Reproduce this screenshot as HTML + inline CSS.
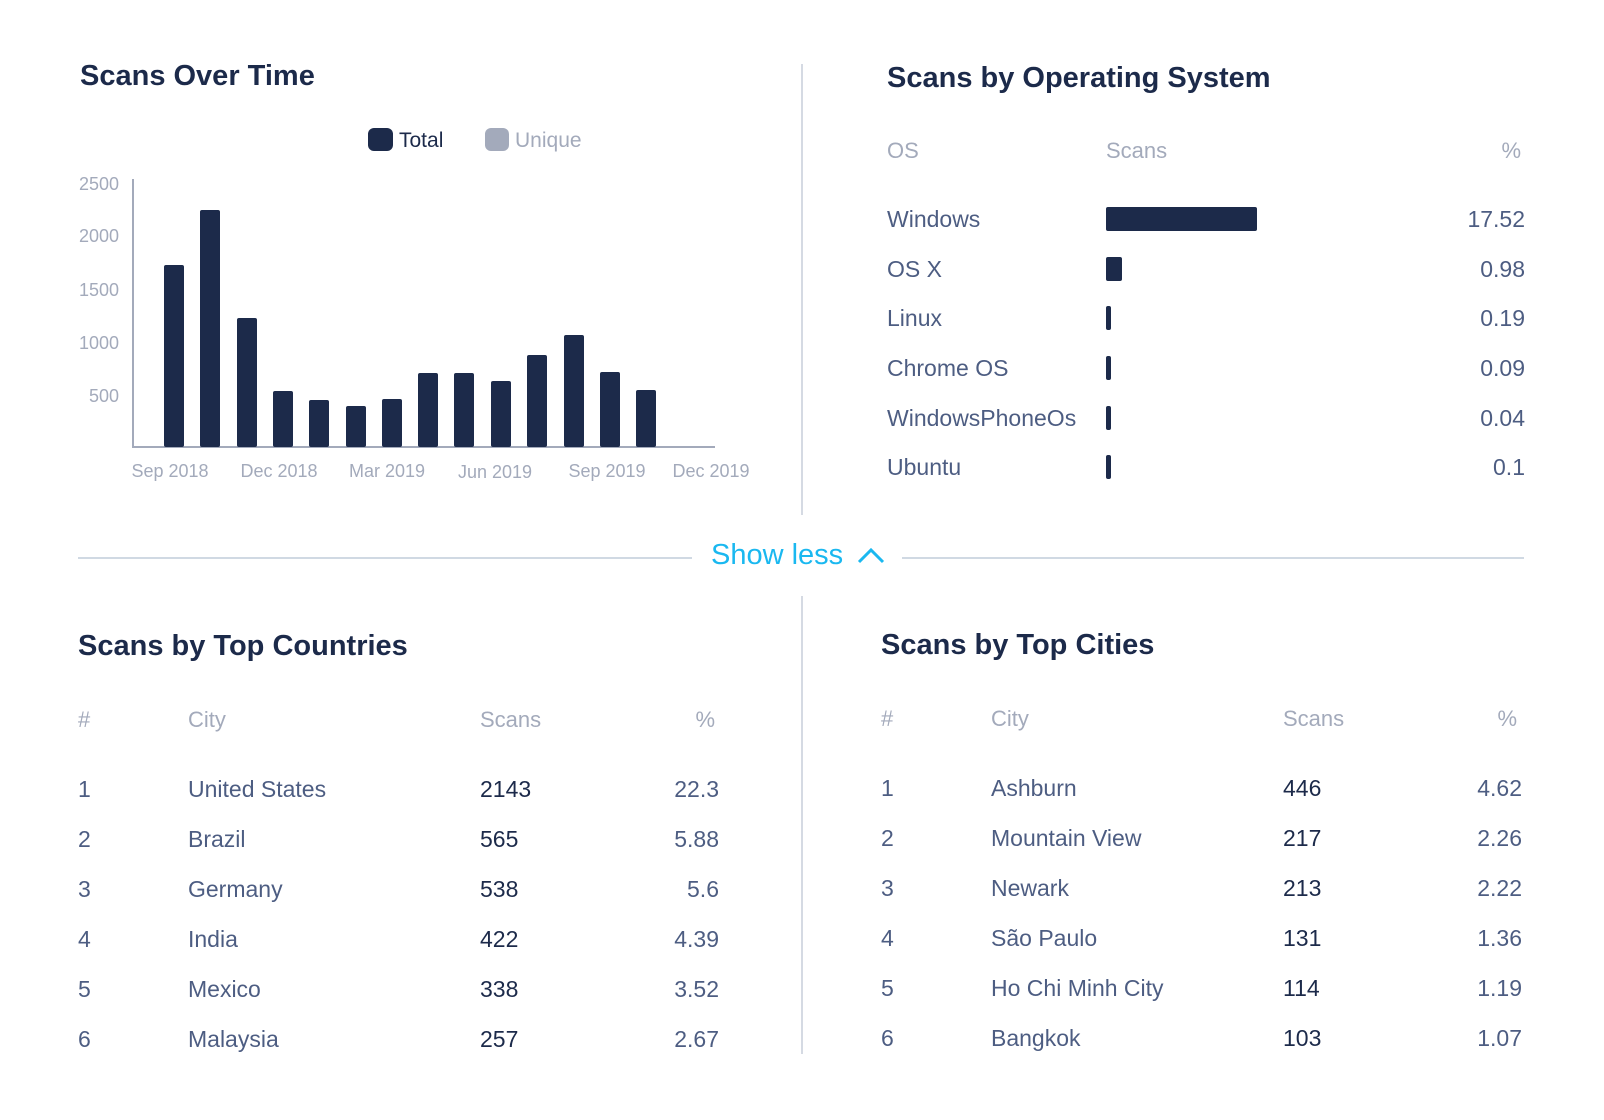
<!DOCTYPE html>
<html><head><meta charset="utf-8"><style>
body{margin:0;width:1604px;height:1120px;background:#fff;font-family:"Liberation Sans",sans-serif;position:relative;overflow:hidden}
.a{position:absolute;white-space:nowrap;line-height:1}
.t{font-weight:bold;font-size:29px;color:#1c2a4a}
.h{font-size:22px;color:#a3aabb}
.n{font-size:23px;color:#4d5d82}
.d{font-size:23px;color:#1c2a4a}
.r{text-align:right}
</style></head><body>
<div class="a t" style="left:80px;top:62px">Scans Over Time</div>
<div class="a" style="left:368px;top:128px;width:25px;height:23px;background:#1c2a4a;border-radius:6px"></div>
<div class="a" style="left:399px;top:130px;font-size:21px;color:#1c2a4a">Total</div>
<div class="a" style="left:485px;top:128px;width:24px;height:23px;background:#a3aabb;border-radius:6px"></div>
<div class="a" style="left:515px;top:130px;font-size:21px;color:#a3aabb">Unique</div>
<svg class="a" style="left:0;top:0" width="800" height="500">
<g font-family="Liberation Sans" font-size="18" fill="#a3aabb" text-anchor="end">
<text x="119" y="190">2500</text><text x="119" y="242">2000</text><text x="119" y="296">1500</text><text x="119" y="349">1000</text><text x="119" y="402">500</text></g>
<line x1="133" y1="179" x2="133" y2="448" stroke="#a3aabb" stroke-width="2"/>
<line x1="132" y1="447" x2="715" y2="447" stroke="#a3aabb" stroke-width="2"/>
<g fill="#1c2a4a">
<rect x="164" y="265" width="20" height="182" rx="2"/>
<rect x="200" y="210" width="20" height="237" rx="2"/>
<rect x="237" y="318" width="20" height="129" rx="2"/>
<rect x="273" y="391" width="20" height="56" rx="2"/>
<rect x="309" y="400" width="20" height="47" rx="2"/>
<rect x="346" y="406" width="20" height="41" rx="2"/>
<rect x="382" y="399" width="20" height="48" rx="2"/>
<rect x="418" y="373" width="20" height="74" rx="2"/>
<rect x="454" y="373" width="20" height="74" rx="2"/>
<rect x="491" y="381" width="20" height="66" rx="2"/>
<rect x="527" y="355" width="20" height="92" rx="2"/>
<rect x="564" y="335" width="20" height="112" rx="2"/>
<rect x="600" y="372" width="20" height="75" rx="2"/>
<rect x="636" y="390" width="20" height="57" rx="2"/>
</g>
<g font-family="Liberation Sans" font-size="18" fill="#a3aabb" text-anchor="middle">
<text x="170" y="477">Sep 2018</text><text x="279" y="477">Dec 2018</text><text x="387" y="477">Mar 2019</text><text x="495" y="478">Jun 2019</text><text x="607" y="477">Sep 2019</text><text x="711" y="477">Dec 2019</text></g>
</svg>
<div class="a" style="left:801px;top:64px;width:2px;height:451px;background:#d5dae3"></div>
<div class="a" style="left:801px;top:596px;width:2px;height:458px;background:#d5dae3"></div>

<div class="a t" style="left:887px;top:64px">Scans by Operating System</div>
<div class="a h" style="left:887px;top:140px">OS</div>
<div class="a h" style="left:1106px;top:140px">Scans</div>
<div class="a h r" style="left:1421px;width:100px;top:140px">%</div>
<div class="a n" style="left:887px;top:208px">Windows</div>
<div class="a n" style="left:887px;top:258px">OS X</div>
<div class="a n" style="left:887px;top:307px">Linux</div>
<div class="a n" style="left:887px;top:357px">Chrome OS</div>
<div class="a n" style="left:887px;top:407px">WindowsPhoneOs</div>
<div class="a n" style="left:887px;top:456px">Ubuntu</div>
<div class="a" style="left:1106px;top:207px;width:151px;height:24px;background:#1c2a4a;border-radius:2px"></div>
<div class="a" style="left:1106px;top:257px;width:16px;height:24px;background:#1c2a4a;border-radius:2px"></div>
<div class="a" style="left:1106px;top:306px;width:5px;height:24px;background:#1c2a4a;border-radius:2px"></div>
<div class="a" style="left:1106px;top:356px;width:5px;height:24px;background:#1c2a4a;border-radius:2px"></div>
<div class="a" style="left:1106px;top:406px;width:5px;height:24px;background:#1c2a4a;border-radius:2px"></div>
<div class="a" style="left:1106px;top:455px;width:5px;height:24px;background:#1c2a4a;border-radius:2px"></div>
<div class="a n r" style="left:1325px;width:200px;top:208px">17.52</div>
<div class="a n r" style="left:1325px;width:200px;top:258px">0.98</div>
<div class="a n r" style="left:1325px;width:200px;top:307px">0.19</div>
<div class="a n r" style="left:1325px;width:200px;top:357px">0.09</div>
<div class="a n r" style="left:1325px;width:200px;top:407px">0.04</div>
<div class="a n r" style="left:1325px;width:200px;top:456px">0.1</div>

<div class="a" style="left:78px;top:557px;width:614px;height:2px;background:#d0d9e3"></div>
<div class="a" style="left:902px;top:557px;width:622px;height:2px;background:#d0d9e3"></div>
<div class="a" style="left:711px;top:541px;font-size:29px;color:#1ab8f0">Show less</div>
<svg class="a" style="left:856px;top:544px" width="32" height="24"><polyline points="3,18 15,6 27,18" fill="none" stroke="#1ab8f0" stroke-width="3"/></svg>

<div class="a t" style="left:78px;top:632px">Scans by Top Countries</div>
<div class="a h" style="left:78px;top:709px">#</div>
<div class="a h" style="left:188px;top:709px">City</div>
<div class="a h" style="left:480px;top:709px">Scans</div>
<div class="a h r" style="left:615px;width:100px;top:709px">%</div>

<div class="a t" style="left:881px;top:631px">Scans by Top Cities</div>
<div class="a h" style="left:881px;top:708px">#</div>
<div class="a h" style="left:991px;top:708px">City</div>
<div class="a h" style="left:1283px;top:708px">Scans</div>
<div class="a h r" style="left:1417px;width:100px;top:708px">%</div>

<div class="a n" style="left:78px;top:778px">1</div><div class="a n" style="left:188px;top:778px">United States</div><div class="a d" style="left:480px;top:778px">2143</div><div class="a n r" style="left:619px;width:100px;top:778px">22.3</div>
<div class="a n" style="left:78px;top:828px">2</div><div class="a n" style="left:188px;top:828px">Brazil</div><div class="a d" style="left:480px;top:828px">565</div><div class="a n r" style="left:619px;width:100px;top:828px">5.88</div>
<div class="a n" style="left:78px;top:878px">3</div><div class="a n" style="left:188px;top:878px">Germany</div><div class="a d" style="left:480px;top:878px">538</div><div class="a n r" style="left:619px;width:100px;top:878px">5.6</div>
<div class="a n" style="left:78px;top:928px">4</div><div class="a n" style="left:188px;top:928px">India</div><div class="a d" style="left:480px;top:928px">422</div><div class="a n r" style="left:619px;width:100px;top:928px">4.39</div>
<div class="a n" style="left:78px;top:978px">5</div><div class="a n" style="left:188px;top:978px">Mexico</div><div class="a d" style="left:480px;top:978px">338</div><div class="a n r" style="left:619px;width:100px;top:978px">3.52</div>
<div class="a n" style="left:78px;top:1028px">6</div><div class="a n" style="left:188px;top:1028px">Malaysia</div><div class="a d" style="left:480px;top:1028px">257</div><div class="a n r" style="left:619px;width:100px;top:1028px">2.67</div>

<div class="a n" style="left:881px;top:777px">1</div><div class="a n" style="left:991px;top:777px">Ashburn</div><div class="a d" style="left:1283px;top:777px">446</div><div class="a n r" style="left:1422px;width:100px;top:777px">4.62</div>
<div class="a n" style="left:881px;top:827px">2</div><div class="a n" style="left:991px;top:827px">Mountain View</div><div class="a d" style="left:1283px;top:827px">217</div><div class="a n r" style="left:1422px;width:100px;top:827px">2.26</div>
<div class="a n" style="left:881px;top:877px">3</div><div class="a n" style="left:991px;top:877px">Newark</div><div class="a d" style="left:1283px;top:877px">213</div><div class="a n r" style="left:1422px;width:100px;top:877px">2.22</div>
<div class="a n" style="left:881px;top:927px">4</div><div class="a n" style="left:991px;top:927px">São Paulo</div><div class="a d" style="left:1283px;top:927px">131</div><div class="a n r" style="left:1422px;width:100px;top:927px">1.36</div>
<div class="a n" style="left:881px;top:977px">5</div><div class="a n" style="left:991px;top:977px">Ho Chi Minh City</div><div class="a d" style="left:1283px;top:977px">114</div><div class="a n r" style="left:1422px;width:100px;top:977px">1.19</div>
<div class="a n" style="left:881px;top:1027px">6</div><div class="a n" style="left:991px;top:1027px">Bangkok</div><div class="a d" style="left:1283px;top:1027px">103</div><div class="a n r" style="left:1422px;width:100px;top:1027px">1.07</div>
</body></html>
